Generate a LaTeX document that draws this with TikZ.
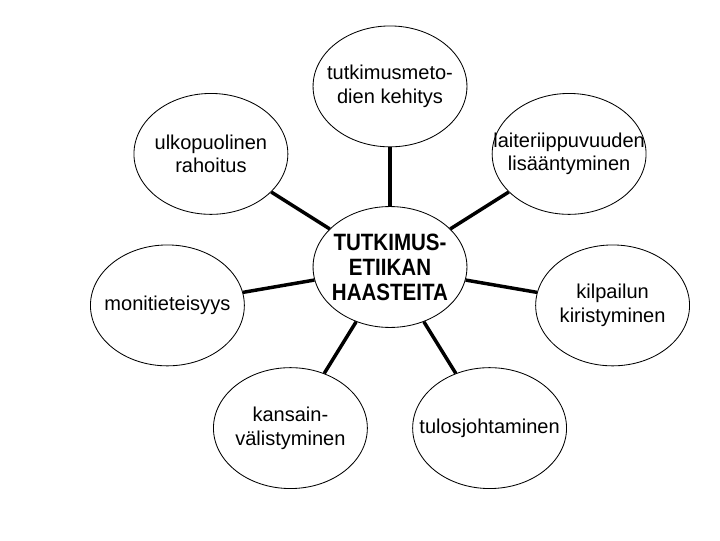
\documentclass[tikz,border=0pt]{standalone}
\usepackage{fontspec}
\setmainfont{Liberation Sans}
\newfontfamily\headfont[FakeStretch = 0.87]{Liberation Sans Bold}
\usetikzlibrary{shapes.geometric}

\begin{document}
\begin{tikzpicture}[bubble/.style = {ellipse, draw, line width = 0.8pt, minimum width = 5.13cm, minimum height = 4.03cm, inner sep = 0pt},
txt/.style = {align = center, font = \fontsize{19}{22.5}\selectfont},
spoke/.style = {line width = 3.3pt}]
\useasboundingbox (0,0) rectangle (24,18);

%% the ellipses
\node[bubble] (etiikka) at (13,9.1) {};
\node[bubble] (metodit) at (13,15.12) {};
\node[bubble] (rahoitus) at (7.03,12.87) {};
\node[bubble] (laitteet) at (18.97,12.87) {};
\node[bubble] (moniala) at (5.58,7.82) {};
\node[bubble] (kilpailu) at (20.42,7.82) {};
\node[bubble] (kansainv) at (9.68,3.73) {};
\node[bubble] (tulos) at (16.32,3.73) {};

%% the texts
\node[txt, font = \fontsize{22.4}{23.8}\headfont] (etiikka-t) at (etiikka) {TUTKIMUS-\\ETIIKAN\\HAASTEITA};
\node[txt] (metodit-t) at (metodit) {tutkimusmeto-\\dien kehitys};
\node[txt] (rahoitus-t) at (rahoitus) {ulkopuolinen\\rahoitus};
\node[txt] (laitteet-t) at (laitteet) {laiteriippuvuuden\\lisääntyminen};
\node[txt] (moniala-t) at (moniala) {monitieteisyys};
\node[txt] (kilpailu-t) at (kilpailu) {kilpailun\\kiristyminen};
\node[txt] (kansainv-t) at (kansainv) {kansain-\\välistyminen};
\node[txt] (tulos-t) at (tulos) {tulosjohtaminen};

%% the spokes
\draw[spoke] (etiikka) -- (metodit);
\draw[spoke] (etiikka) -- (rahoitus);
\draw[spoke] (etiikka) -- (laitteet);
\draw[spoke] (etiikka) -- (moniala);
\draw[spoke] (etiikka) -- (kilpailu);
\draw[spoke] (etiikka) -- (kansainv);
\draw[spoke] (etiikka) -- (tulos);
\end{tikzpicture}
\end{document}
